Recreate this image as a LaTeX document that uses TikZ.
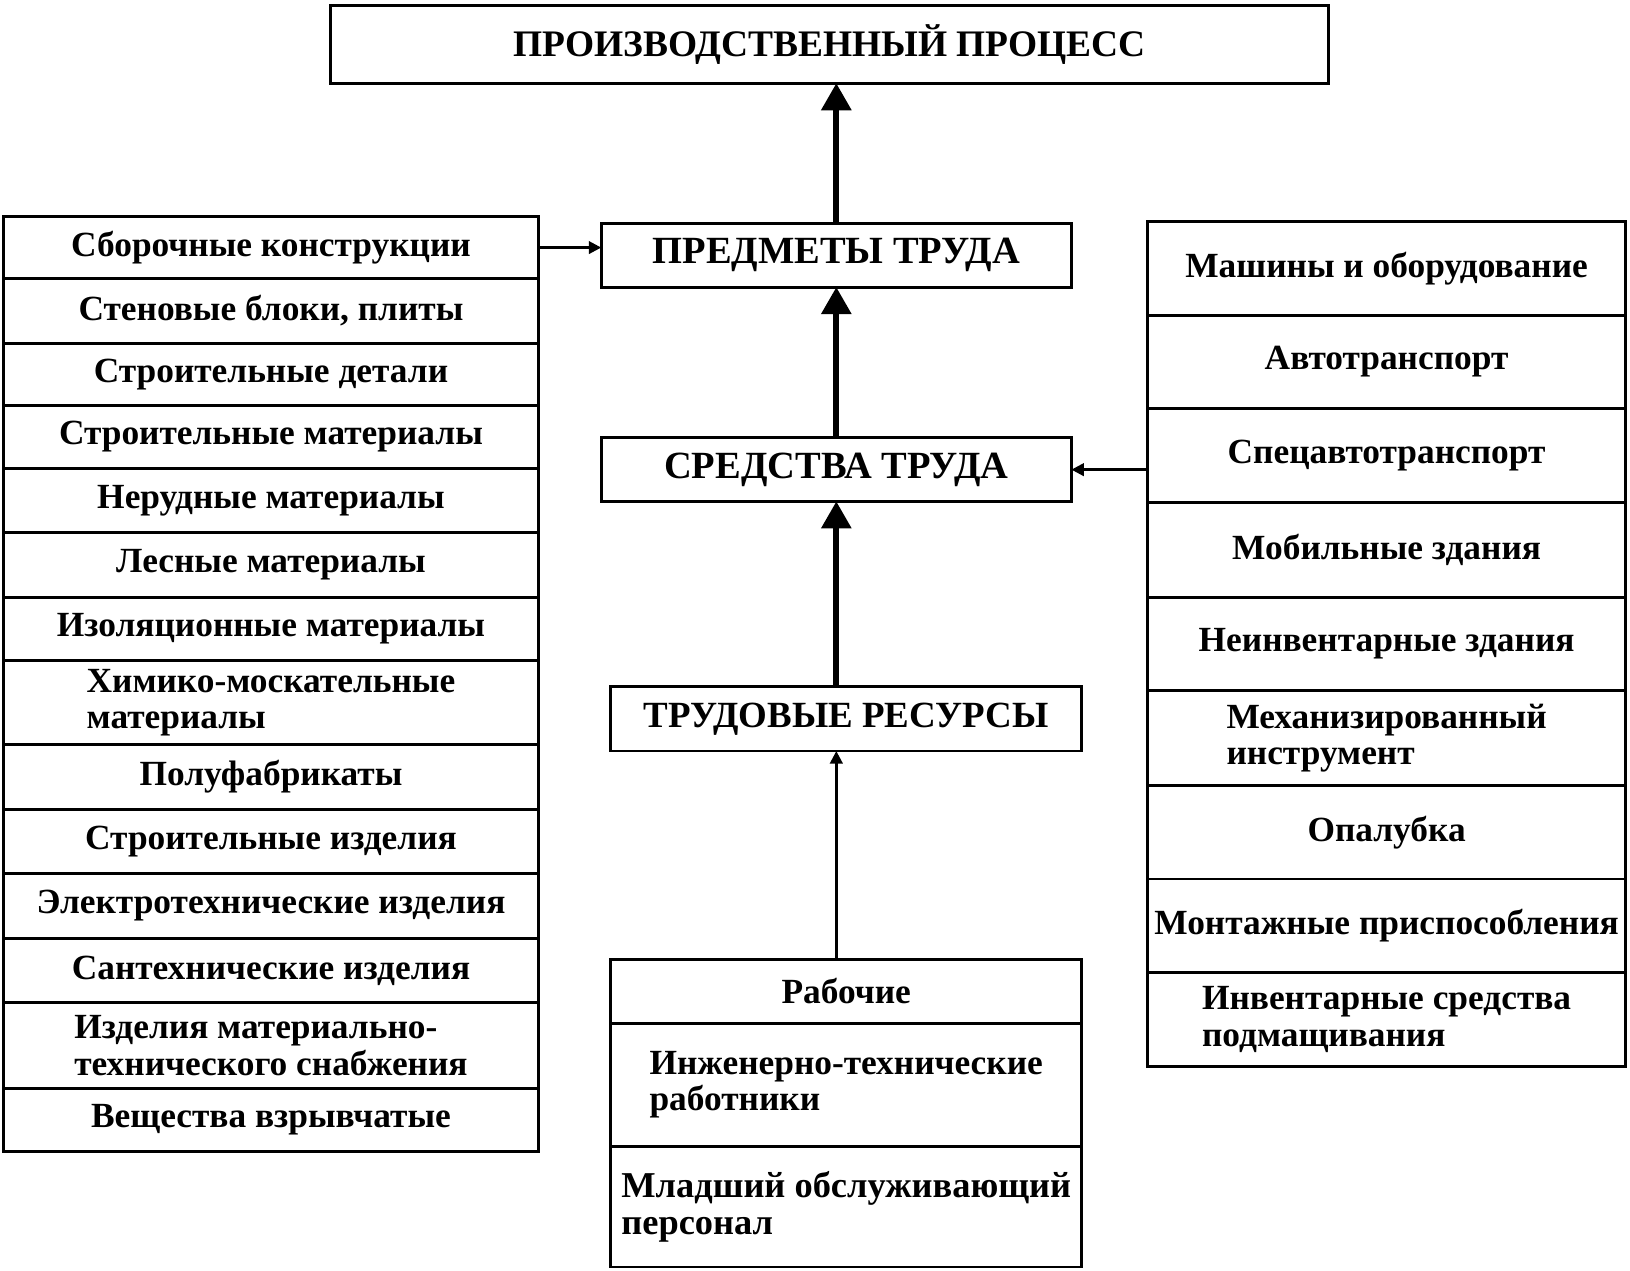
\documentclass[tikz,border=0pt]{standalone}
\usepackage{fontspec}
\setmainfont{Liberation Serif}
\usetikzlibrary{arrows.meta}
\begin{document}
\begin{tikzpicture}[x=1pt,y=-1pt,
  cell/.style={draw, line width=2.8pt, inner sep=0pt, outer sep=0pt, anchor=north west, align=left,
    font=\fontsize{34}{35}\selectfont\bfseries},
  lcell/.style={cell, minimum width=515pt},
  rcell/.style={cell, minimum width=460pt},
  mcell/.style={cell, minimum width=453pt},
  hdr/.style={cell, minimum width=452pt, minimum height=61pt, font=\fontsize{37}{36}\selectfont\bfseries},
  bigarrow/.style={line width=5.5pt, -{Triangle[width=28pt,length=26pt]}},
  thinarrow/.style={line width=2.5pt, -{Triangle[width=12pt,length=12pt]}}]
\useasboundingbox (0,0) rectangle (1567,1221);
% top
\node[cell, minimum width=959pt, minimum height=75pt, font=\fontsize{36}{36}\selectfont\bfseries] (proc) at (318,5) {ПРОИЗВОДСТВЕННЫЙ ПРОЦЕСС};
% centre
\node[hdr] (pred) at (578,215) {ПРЕДМЕТЫ ТРУДА};
\node[hdr] (sred) at (578,421) {СРЕДСТВА ТРУДА};
\node[hdr, minimum width=453pt, minimum height=62pt, font=\fontsize{35.5}{36}\selectfont\bfseries] (trud) at (587,660) {ТРУДОВЫЕ РЕСУРСЫ};
\node[mcell, minimum height=62pt] (b1) at (587,922) {Рабочие};
\node[mcell, minimum height=118pt] (b2) at (587,984) {Инженерно-технические\\работники};
\node[mcell, minimum height=116pt, font=\fontsize{35}{35}\selectfont\bfseries] (b3) at (587,1102) {Младший обслуживающий\\персонал};
% left column
\node[lcell, minimum height=60pt] (l1) at (3,208) {Сборочные конструкции};
\node[lcell, minimum height=62pt] (l2) at (3,268) {Стеновые блоки, плиты};
\node[lcell, minimum height=60pt] (l3) at (3,330) {Строительные детали};
\node[lcell, minimum height=60pt] (l4) at (3,390) {Строительные материалы};
\node[lcell, minimum height=62pt] (l5) at (3,450) {Нерудные материалы};
\node[lcell, minimum height=62pt] (l6) at (3,512) {Лесные материалы};
\node[lcell, minimum height=61pt] (l7) at (3,574) {Изоляционные материалы};
\node[lcell, minimum height=81pt] (l8) at (3,635) {Химико-москательные\\материалы};
\node[lcell, minimum height=62pt] (l9) at (3,716) {Полуфабрикаты};
\node[lcell, minimum height=62pt] (l10) at (3,778) {Строительные изделия};
\node[lcell, minimum height=62pt] (l11) at (3,840) {Электротехнические изделия};
\node[lcell, minimum height=62pt] (l12) at (3,902) {Сантехнические изделия};
\node[lcell, minimum height=82pt] (l13) at (3,964) {Изделия материально-\\технического снабжения};
\node[lcell, minimum height=61pt] (l14) at (3,1046) {Вещества взрывчатые};
% right column
\node[rcell, minimum height=90pt] (r1) at (1103,213) {Машины и оборудование};
\node[rcell, minimum height=90pt] (r2) at (1103,303) {Автотранспорт};
\node[rcell, minimum height=90pt] (r3) at (1103,393) {Спецавтотранспорт};
\node[rcell, minimum height=91pt] (r4) at (1103,483) {Мобильные здания};
\node[rcell, minimum height=90pt] (r5) at (1103,574) {Неинвентарные здания};
\node[rcell, minimum height=91pt] (r6) at (1103,664) {Механизированный\\инструмент};
\node[rcell, minimum height=90pt] (r7) at (1103,755) {Опалубка};
\node[rcell, minimum height=90pt] (r8) at (1103,845) {Монтажные приспособления};
\node[rcell, minimum height=90pt] (r9) at (1103,935) {Инвентарные средства\\подмащивания};
% connectors
\draw[bigarrow] (pred.north -| sred.south) -- (proc.south -| sred.south);
\draw[bigarrow] (sred.north) -- (pred.south);
\draw[bigarrow] (trud.north -| sred.south) -- (sred.south);
\draw[thinarrow] (b1.north -| sred.south) -- (trud.south -| sred.south);
\draw[thinarrow] (l1.east) -- (l1.east -| pred.west);
\draw[thinarrow] (sred.east -| r3.west) -- (sred.east);
\end{tikzpicture}
\end{document}
